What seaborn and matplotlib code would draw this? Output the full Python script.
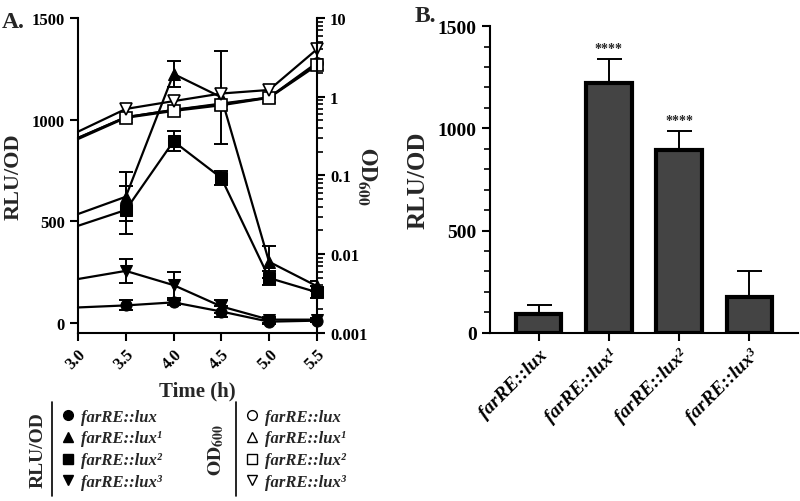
import matplotlib
matplotlib.use("Agg")
import matplotlib.pyplot as plt
from matplotlib.lines import Line2D
import numpy as np
import pandas as pd
import seaborn as sns

# ---- data ----
time_h = [3.0, 3.5, 4.0, 4.5, 5.0, 5.5]
strains = ["farRE::lux", "farRE::lux¹", "farRE::lux²", "farRE::lux³"]

rlu_lux = [75, 85, 100, 55, 5, 10]
rlu_lux1 = [535, 620, 1225, 1110, 300, 180]
rlu_lux2 = [477, 555, 893, 713, 220, 150]
rlu_lux3 = [215, 255, 185, 80, 15, 15]

rlu_err_lux = [0, 25, 12, 25, 12, 8]
rlu_err_lux1 = [0, 120, 65, 230, 80, 25]
rlu_err_lux2 = [0, 120, 50, 35, 35, 30]
rlu_err_lux3 = [0, 60, 65, 30, 15, 10]

od_lux = [0.30, 0.55, 0.68, 0.80, 0.98, 2.7]
od_lux1 = [0.30, 0.55, 0.68, 0.82, 0.98, 2.6]
od_lux2 = [0.29, 0.54, 0.66, 0.78, 0.97, 2.5]
od_lux3 = [0.36, 0.70, 0.88, 1.10, 1.22, 4.0]

bar_values = [93, 1222, 893, 177]
bar_errors = [45, 118, 95, 123]
bar_stars = ["", "****", "****", ""]

sns.set_theme(style="ticks")
plt.rcParams.update({
    "font.family": ["Liberation Serif", "DejaVu Serif"],
    "font.weight": "bold",
    "axes.labelweight": "bold",
    "axes.linewidth": 1.5,
    "xtick.major.width": 1.5,
    "ytick.major.width": 1.5,
    "ytick.minor.width": 1.2,
    "xtick.color": "black",
    "ytick.color": "black",
    "axes.edgecolor": "black",
    "mathtext.fontset": "stix",
    "mathtext.default": "bf",
})

fig = plt.figure(figsize=(8, 5.02), dpi=100)

# ---------------- Panel A ----------------
axA = fig.add_axes([0.0975, 0.335, 0.2985, 0.627])
axR = axA.twinx()

rlu = {"lux": rlu_lux, "lux1": rlu_lux1, "lux2": rlu_lux2, "lux3": rlu_lux3}
rlu_err = {"lux": rlu_err_lux, "lux1": rlu_err_lux1, "lux2": rlu_err_lux2, "lux3": rlu_err_lux3}
od = {"lux": od_lux, "lux1": od_lux1, "lux2": od_lux2, "lux3": od_lux3}
markers = {"lux": "o", "lux1": "^", "lux2": "s", "lux3": "v"}

for key in ["lux", "lux1", "lux2", "lux3"]:
    df = pd.DataFrame({"time": time_h, "rlu": rlu[key], "od": od[key]})
    sns.lineplot(data=df, x="time", y="od", ax=axR, color="black", linewidth=1.6,
                 marker=markers[key], markersize=8, markerfacecolor="white",
                 markeredgecolor="black", markeredgewidth=1.2,
                 markevery=list(range(1, len(time_h))), clip_on=False)
    sns.lineplot(data=df, x="time", y="rlu", ax=axA, color="black", linewidth=1.6,
                 marker=markers[key], markersize=8, markerfacecolor="black",
                 markeredgecolor="black", markevery=list(range(1, len(time_h))),
                 clip_on=False)
    axA.errorbar(time_h[1:], rlu[key][1:], yerr=rlu_err[key][1:], fmt="none",
                 ecolor="black", elinewidth=1.4, capsize=5, capthick=1.4)

axA.set_xlim(3.0, 5.5)
axA.set_ylim(-50, 1500)
axA.set_yticks([0, 500, 1000, 1500])
axA.set_xticks(time_h)
axA.set_xticklabels([f"{t:.1f}" for t in time_h], rotation=45, ha="right",
                    rotation_mode="anchor", fontsize=12)
axA.tick_params(axis="y", labelsize=12)
axA.set_xlabel("Time (h)", fontsize=15, labelpad=6)
axA.set_ylabel("RLU/OD", fontsize=16, labelpad=6)

axR.set_yscale("log")
axR.set_ylim(0.001, 10)
axR.set_yticks([0.001, 0.01, 0.1, 1, 10])
axR.set_yticklabels(["0.001", "0.01", "0.1", "1", "10"], fontsize=12)
axR.set_ylabel("$\\mathbf{OD_{600}}$", fontsize=16, rotation=-90, labelpad=8)
axR.set_xlim(3.0, 5.5)
axR.set_xlabel("")

for ax in (axA, axR):
    ax.spines["top"].set_visible(False)
axA.spines["right"].set_visible(False)
axR.spines["left"].set_visible(False)
axR.spines["bottom"].set_visible(False)

# ---- custom legend below panel A ----
leg_font = {"family": "Liberation Serif", "weight": "bold", "style": "italic", "size": 12}
h_fill = [Line2D([], [], ls="none", marker=markers[k], color="black", markersize=7)
          for k in ["lux", "lux1", "lux2", "lux3"]]
h_open = [Line2D([], [], ls="none", marker=markers[k], markerfacecolor="white",
                 markeredgecolor="black", markersize=7)
          for k in ["lux", "lux1", "lux2", "lux3"]]
fig.legend(h_fill, strains, loc="upper left", bbox_to_anchor=(0.068, 1 - 403 / 502),
           frameon=False, prop=leg_font, handlelength=0.8, handletextpad=0.4,
           labelspacing=0.35, borderaxespad=0)
fig.legend(h_open, strains, loc="upper left", bbox_to_anchor=(0.298, 1 - 403 / 502),
           frameon=False, prop=leg_font, handlelength=0.8, handletextpad=0.4,
           labelspacing=0.35, borderaxespad=0)
fig.add_artist(Line2D([52 / 800, 52 / 800], [1 - 403 / 502, 1 - 497 / 502],
                      transform=fig.transFigure, color="black", lw=1.2))
fig.add_artist(Line2D([236 / 800, 236 / 800], [1 - 403 / 502, 1 - 497 / 502],
                      transform=fig.transFigure, color="black", lw=1.2))
fig.text(38 / 800, 1 - 450 / 502, "RLU/OD", rotation=90, ha="center", va="center",
         fontsize=14, fontweight="bold")
fig.text(216 / 800, 1 - 450 / 502, "$\\mathbf{OD_{600}}$", rotation=90, ha="center",
         va="center", fontsize=14)

# ---------------- Panel B ----------------
axB = fig.add_axes([0.6125, 0.335, 0.385, 0.611])
bdf = pd.DataFrame({"strain": strains, "value": bar_values})
sns.barplot(data=bdf, x="strain", y="value", ax=axB, color="#444444", width=0.65,
            edgecolor="black", linewidth=3, saturation=1)
axB.errorbar(range(len(strains)), bar_values, yerr=[[0] * 4, bar_errors], fmt="none",
             ecolor="black", elinewidth=1.4, capsize=9, capthick=1.4, zorder=0)
for i, s in enumerate(bar_stars):
    if s:
        axB.text(i, bar_values[i] + bar_errors[i] + 18, s, ha="center", va="bottom",
                 fontsize=10, fontweight="bold")
axB.set_xlim(-0.69, 3.69)
axB.set_ylim(0, 1500)
axB.set_yticks([0, 500, 1000, 1500])
axB.set_yticks(np.arange(0, 1501, 100), minor=True)
axB.tick_params(axis="y", which="major", length=6, labelsize=14)
axB.tick_params(axis="y", which="minor", length=4)
axB.set_xticks(range(len(strains)))
axB.set_xticklabels(strains, rotation=45, ha="right", rotation_mode="anchor",
                    fontsize=14, fontstyle="italic", fontweight="bold")
axB.set_xlabel("")
axB.set_ylabel("RLU/OD", fontsize=18, labelpad=6)
sns.despine(ax=axB)

fig.text(0.002, 1 - 22 / 502, "A.", fontsize=17, fontweight="bold", va="center")
fig.text(415 / 800, 1 - 16 / 502, "B.", fontsize=17, fontweight="bold", va="center")

fig.savefig("out.png", dpi=100)
